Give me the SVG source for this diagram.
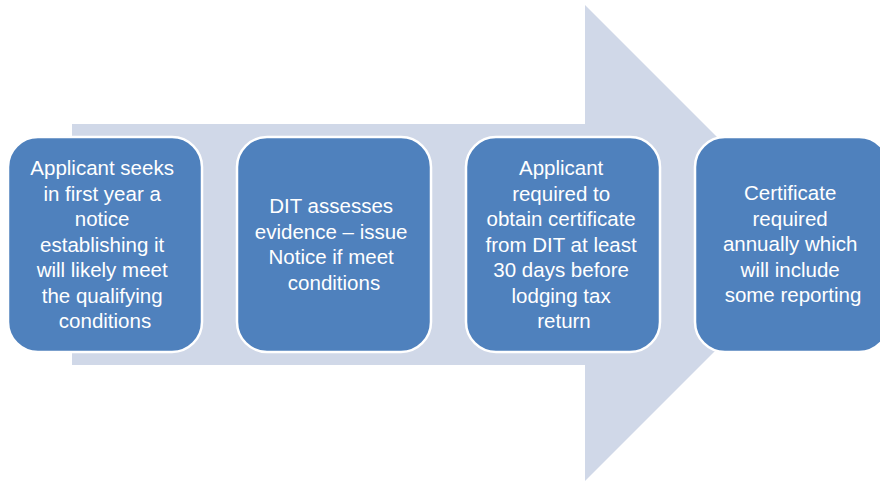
<svg xmlns="http://www.w3.org/2000/svg" width="880" height="481" viewBox="0 0 880 481">
  <style>
    .box { fill: #4f81bd; stroke: #ffffff; stroke-width: 2.5; }
    .lbl { font-family: "Liberation Sans", Arial, sans-serif; font-size: 20.5px; fill: #ffffff; text-anchor: middle; }
  </style>
  <rect width="880" height="481" fill="#ffffff"/>
  <!-- background process arrow -->
  <g id="connectors">
    <path d="M72,124 H585 V5 L823,243 L585,481 V365 H72 Z" fill="#d0d8e8"/>
  </g>
  <g id="step1">
    <rect class="box" x="8" y="137" width="194" height="215" rx="30"/>
    <text class="lbl">
      <tspan x="105" y="175">Applicant seeks</tspan>
      <tspan x="105" y="200.5">in first year a</tspan>
      <tspan x="105" y="226">notice</tspan>
      <tspan x="105" y="251.5">establishing it</tspan>
      <tspan x="105" y="277">will likely meet</tspan>
      <tspan x="105" y="302.5">the qualifying</tspan>
      <tspan x="105" y="328">conditions</tspan>
    </text>
  </g>
  <g id="step2">
    <rect class="box" x="237" y="137" width="194" height="215" rx="30"/>
    <text class="lbl">
      <tspan x="334" y="213">DIT assesses</tspan>
      <tspan x="334" y="238.5">evidence – issue</tspan>
      <tspan x="334" y="264">Notice if meet</tspan>
      <tspan x="334" y="289.5">conditions</tspan>
    </text>
  </g>
  <g id="step3">
    <rect class="box" x="466" y="137" width="194" height="215" rx="30"/>
    <text class="lbl">
      <tspan x="564" y="175">Applicant</tspan>
      <tspan x="564" y="200.5">required to</tspan>
      <tspan x="564" y="226">obtain certificate</tspan>
      <tspan x="564" y="251.5">from DIT at least</tspan>
      <tspan x="564" y="277">30 days before</tspan>
      <tspan x="564" y="302.5">lodging tax</tspan>
      <tspan x="564" y="328">return</tspan>
    </text>
  </g>
  <g id="step4">
    <rect class="box" x="695" y="137" width="194" height="215" rx="30"/>
    <text class="lbl">
      <tspan x="793" y="200">Certificate</tspan>
      <tspan x="793" y="225.5">required</tspan>
      <tspan x="793" y="251">annually which</tspan>
      <tspan x="793" y="276.5">will include</tspan>
      <tspan x="793" y="302">some reporting</tspan>
    </text>
  </g>
</svg>
